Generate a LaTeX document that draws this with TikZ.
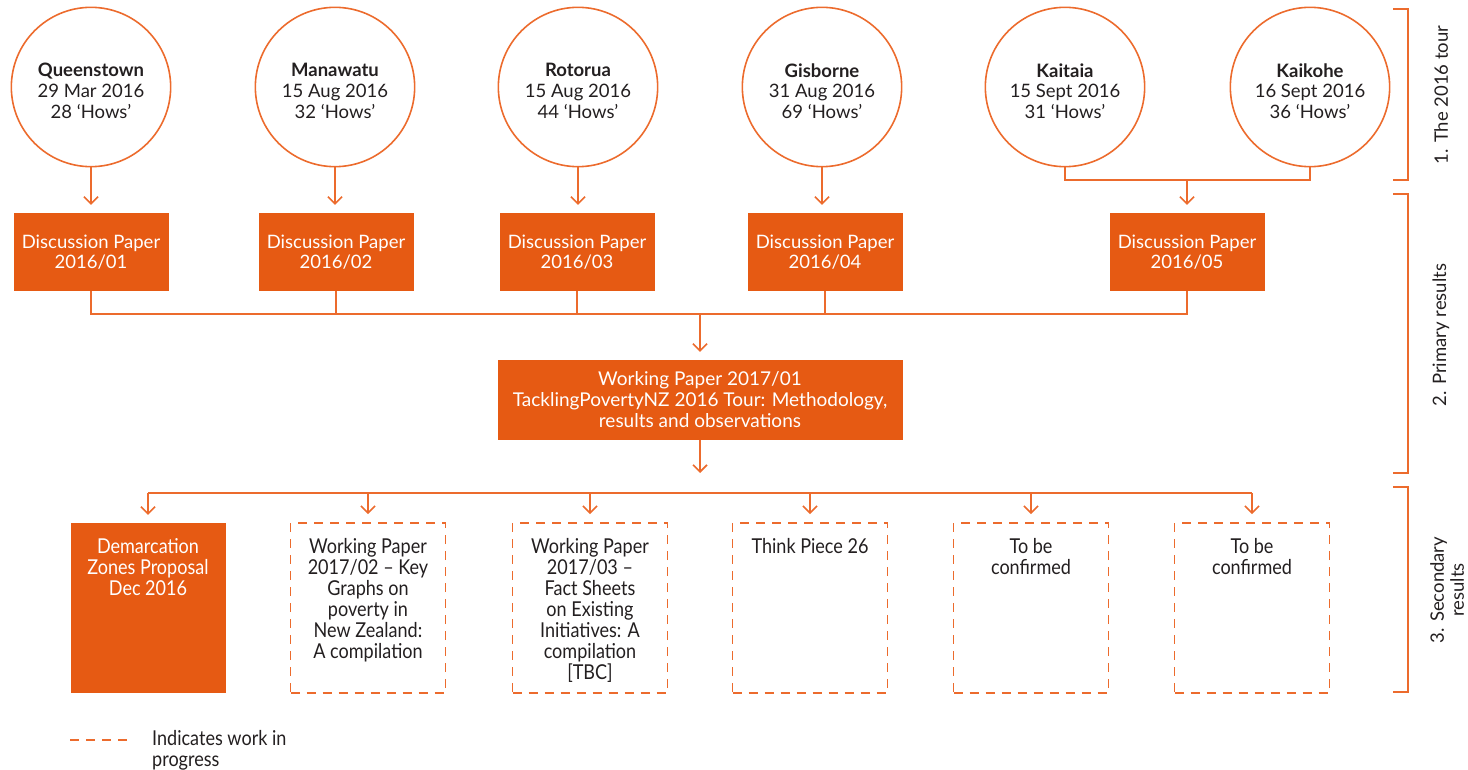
\documentclass[tikz,border=0pt]{standalone}
\usepackage{fontspec}
\setmainfont{Lato}
\newfontfamily\condfont[FakeStretch=0.88,Ligatures=TeX]{Lato}
\usetikzlibrary{arrows.meta}
\definecolor{orl}{HTML}{EC6B2D}
\definecolor{orf}{HTML}{E65A13}
\definecolor{txt}{HTML}{231F20}
\tikzset{
  tour/.style={circle,draw=orl,line width=1.6pt,minimum size=155pt,inner sep=0pt,align=center,text=txt,font=\fontsize{18.5}{20.7}\selectfont},
  dpbox/.style={rectangle,fill=orf,minimum width=155pt,minimum height=78pt,inner sep=0pt,align=center,text=white,font=\fontsize{18.5}{20.5}\selectfont},
  wpbox/.style={rectangle,fill=orf,minimum width=405pt,minimum height=80pt,inner sep=0pt,align=center,text=white,font=\fontsize{19}{21}\selectfont},
  solbox/.style={rectangle,fill=orf,minimum width=155pt,minimum height=170pt,inner sep=0pt,text=white},
  wipbox/.style={rectangle,draw=orl,line width=1.8pt,dash pattern=on 9pt off 7pt,minimum width=155pt,minimum height=170pt,inner sep=0pt,text=txt},
  conn/.style={draw=orl,line width=1.6pt},
  arr/.style={conn,-{Straight Barb[length=7pt,width=14pt,line width=1.6pt]}},
  brk/.style={draw=orl,line width=1.6pt},
  lbl/.style={rotate=90,text=txt,align=center,font=\fontsize{18.5}{20}\selectfont},
}
\newcommand{\btext}[1]{\parbox[c][170pt][t]{150pt}{\centering\condfont\fontsize{20.5}{21}\selectfont\vspace{15pt}#1}}
\newcommand{\ctext}[1]{\raisebox{-4pt}[\height][\depth]{\parbox{150pt}{\centering#1}}}
\begin{document}
\begin{tikzpicture}[x=1pt,y=-1pt]
\useasboundingbox (0,0) rectangle (1468,770);
% circles
\node[tour] (q) at (91,87) {\ctext{\textbf{Queenstown}\\29 Mar 2016\\28 `Hows'}};
\node[tour] (m) at (335,87) {\ctext{\textbf{Manawatu}\\15 Aug 2016\\32 `Hows'}};
\node[tour] (r) at (578,87) {\ctext{\textbf{Rotorua}\\15 Aug 2016\\44 `Hows'}};
\node[tour] (g) at (822,87) {\ctext{\textbf{Gisborne}\\31 Aug 2016\\69 `Hows'}};
\node[tour] (kt) at (1065,87) {\ctext{\textbf{Kaitaia}\\15 Sept 2016\\31 `Hows'}};
\node[tour] (kk) at (1310,87) {\ctext{\textbf{Kaikohe}\\16 Sept 2016\\36 `Hows'}};
% discussion papers
\node[dpbox] (d1) at (91,252) {Discussion Paper\\2016/01};
\node[dpbox] (d2) at (336,252) {Discussion Paper\\2016/02};
\node[dpbox] (d3) at (577,252) {Discussion Paper\\2016/03};
\node[dpbox] (d4) at (825,252) {Discussion Paper\\2016/04};
\node[dpbox] (d5) at (1187,252) {Discussion Paper\\2016/05};
% working paper
\node[wpbox] (wp) at (700,400) {Working Paper 2017/01\\TacklingPovertyNZ 2016 Tour: Methodology,\\results and observations};
% bottom boxes
\node[solbox] (s1) at (148,608) {\btext{Demarcation\\Zones Proposal\\Dec 2016}};
\node[wipbox] (s2) at (368,608) {\btext{Working Paper\\2017/02 \textendash{} Key\\Graphs on\\poverty in\\New Zealand:\\A compilation}};
\node[wipbox] (s3) at (590,608) {\btext{Working Paper\\2017/03 \textendash\\Fact Sheets\\on Existing\\Initiatives: A\\compilation\\{[TBC]}}};
\node[wipbox] (s4) at (810,608) {\btext{Think Piece 26}};
\node[wipbox] (s5) at (1031,608) {\btext{To be\\confirmed}};
\node[wipbox] (s6) at (1252,608) {\btext{To be\\confirmed}};
% connectors top
\foreach \c/\d in {q/d1,m/d2,r/d3,g/d4}{
  \draw[arr,shorten >=8pt] (\c.south) -- (\c.south |- \d.north);
}
\coordinate (j5) at (1187,180);
\draw[conn] (kt.south) |- (j5) -| (kk.south);
\draw[arr,shorten >=8pt] (j5) -- (d5.north);
% discussion to working paper
\coordinate (b1) at (700,314);
\draw[conn] (d1.south) |- (d5.south |- b1) -- (d5.south);
\foreach \d in {d2,d3,d4}{
  \draw[conn] (\d.south) -- (\d.south |- b1);
}
\draw[arr,shorten >=8pt] (b1) -- (wp.north);
\coordinate (wpend) at (700,473);
\draw[arr] (wp.south) -- (wpend);
% bottom bus
\coordinate (b2) at (700,493);
\draw[conn] (s1.north |- b2) -- (s6.north |- b2);
\foreach \s in {s1,s2,s3,s4,s5,s6}{
  \draw[arr,shorten >=8pt] (\s.north |- b2) -- (\s.north);
}
% brackets
\draw[brk] (1393,9) -- (1408,9) -- (1408,180) -- (1393,180);
\draw[brk] (1393,194) -- (1408,194) -- (1408,473) -- (1393,473);
\draw[brk] (1393,487) -- (1408,487) -- (1408,692) -- (1393,692);
\node[lbl] (l1) at (1441,95) {1. The 2016 tour};
\node[lbl] (l2) at (1441,335) {2. Primary results};
\node[lbl] (l3) at (1447,590) {3. Secondary\\results};
% legend
\coordinate (lg1) at (70,740);
\coordinate (lg2) at (127,740);
\draw[conn,line width=1.8pt,dash pattern=on 9pt off 7pt] (lg1) -- (lg2);
\node[anchor=north west,inner sep=0pt,align=left,text=txt,font=\condfont\fontsize{20.5}{21}\selectfont] (lgt) at (152,730) {Indicates work in\\progress};
\end{tikzpicture}
\end{document}
